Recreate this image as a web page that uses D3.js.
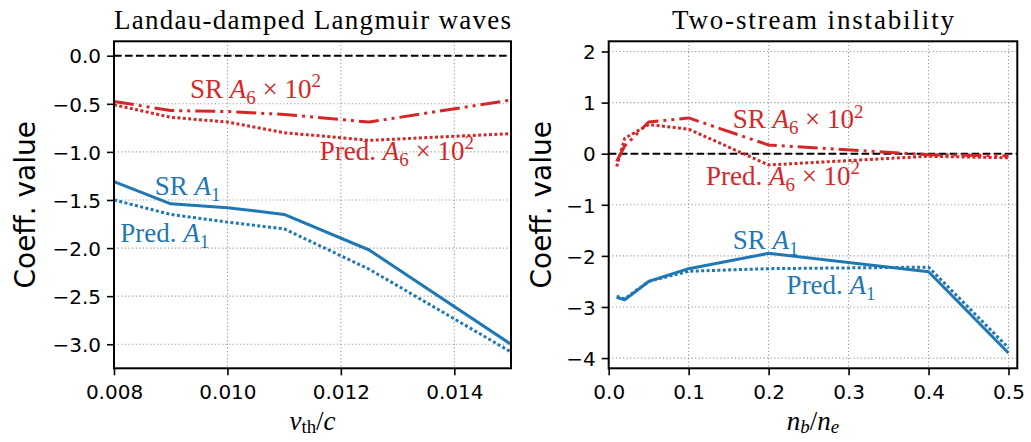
<!DOCTYPE html>
<html><head><meta charset="utf-8">
<script src="https://cdn.jsdelivr.net/npm/d3@7"></script>
<style>body{margin:0;background:#fff} svg{display:block}</style>
</head><body>
<svg id="c" width="1031" height="442"></svg>
<script>
// ---- Data: Landau-damped Langmuir waves ----
const leftX      = [0.008, 0.009, 0.010, 0.011, 0.0125, 0.015];
const leftSRA1   = [-1.31, -1.54, -1.58, -1.65, -2.02, -3.00];
const leftPredA1 = [-1.50, -1.65, -1.73, -1.80, -2.22, -3.08];
const leftSRA6   = [-0.475, -0.57, -0.58, -0.61, -0.69, -0.46];
const leftPredA6 = [-0.51, -0.64, -0.69, -0.80, -0.88, -0.81];
const leftXTicks = [0.008, 0.010, 0.012, 0.014];
const leftYTicks = [0.0, -0.5, -1.0, -1.5, -2.0, -2.5, -3.0];

// ---- Data: Two-stream instability ----
const rightX      = [0.01, 0.02, 0.05, 0.1, 0.2, 0.4, 0.5];
const rightSRA1   = [-2.81, -2.86, -2.50, -2.25, -1.95, -2.31, -3.90];
const rightPredA1 = [-2.79, -2.84, -2.50, -2.30, -2.25, -2.22, -3.80];
const rightSRA6   = [-0.15, 0.15, 0.62, 0.70, 0.17, -0.02, -0.04];
const rightPredA6 = [-0.25, 0.30, 0.57, 0.48, -0.22, -0.05, -0.08];
const rightXTicks = [0.0, 0.1, 0.2, 0.3, 0.4, 0.5];
const rightYTicks = [2, 1, 0, -1, -2, -3, -4];

const titles = ["Landau-damped Langmuir waves", "Two-stream instability"];
const yLabelText = "Coeff. value";

const BLUE = "#1f77b4", RED = "#d62728";
const SERIF = "'Liberation Serif', 'Times New Roman', serif";
const SANS = "'DejaVu Sans', sans-serif";
const svg = d3.select("#c");

function mathText(g, x, y, parts, fs, color, anchor, subK) {
  const t = g.append("text").attr("x", x).attr("y", y)
    .attr("font-family", SERIF).attr("font-size", fs).attr("fill", color)
    .attr("text-anchor", anchor || "start");
  let shift = 0;
  parts.forEach(p => {
    const s = t.append("tspan").text(p.t);
    let target = 0, size = fs;
    if (p.sub) { target = fs * (subK || 0.22); size = fs * 0.7; }
    if (p.sup) { target = -fs * 0.4; size = fs * 0.7; }
    s.attr("dy", target - shift).attr("font-size", size);
    shift = target;
    if (p.i) s.attr("font-style", "italic");
  });
  return t;
}
const A6lab = (pre) => [{t: pre}, {t: "A", i: true}, {t: "6", sub: true}, {t: " × 10"}, {t: "2", sup: true}];
const A1lab = (pre) => [{t: pre}, {t: "A", i: true}, {t: "1", sub: true}];

function panel(cfg) {
  const g = svg.append("g");
  const x = d3.scaleLinear().domain(cfg.xd).range(cfg.xr);
  const y = d3.scaleLinear().domain(cfg.yd).range([368.3, 41.3]);
  const [x0, x1] = cfg.xr, y0 = 368.3, y1 = 41.3;

  // grid
  g.append("g").selectAll("line").data(cfg.xt).join("line")
    .attr("x1", d => x(d)).attr("x2", d => x(d)).attr("y1", y1).attr("y2", y0)
    .attr("stroke", "#9a9a9a").attr("stroke-width", 1.1).attr("stroke-dasharray", "1.2,2.4");
  g.append("g").selectAll("line").data(cfg.yt).join("line")
    .attr("x1", x0).attr("x2", x1).attr("y1", d => y(d)).attr("y2", d => y(d))
    .attr("stroke", "#9a9a9a").attr("stroke-width", 1.1).attr("stroke-dasharray", "1.2,2.4");

  // zero line
  g.append("line").attr("x1", x0).attr("x2", x1).attr("y1", y(0)).attr("y2", y(0))
    .attr("stroke", "#000").attr("stroke-width", 2).attr("stroke-dasharray", "7.5,3.5");

  const line = d3.line().x(d => x(d[0])).y(d => y(d[1]));
  cfg.series.forEach(s => {
    g.append("path").datum(cfg.xs.map((v, i) => [v, s.v[i]]))
      .attr("d", line).attr("fill", "none").attr("stroke", s.c)
      .attr("stroke-width", 3).attr("stroke-dasharray", s.dash || null)
      .attr("stroke-linejoin", "round");
  });

  // axes
  const xa = g.append("g").attr("transform", `translate(0,${y0})`)
    .call(d3.axisBottom(x).tickValues(cfg.xt).tickFormat(d3.format(cfg.xf)).tickSize(7).tickPadding(6));
  const ya = g.append("g").attr("transform", `translate(${x0},0)`)
    .call(d3.axisLeft(y).tickValues(cfg.yt).tickFormat(d3.format(cfg.yf)).tickSize(7).tickPadding(6));
  [xa, ya].forEach(a => {
    a.select(".domain").remove();
    a.selectAll("line").attr("stroke", "#000").attr("stroke-width", 1.6);
    a.selectAll("text").attr("font-family", SANS).attr("font-size", 20).attr("fill", "#000");
  });
  xa.selectAll("text").attr("dy", "0.9em");
  ya.selectAll("text").attr("dy", "0.36em");

  // frame
  g.append("rect").attr("x", x0).attr("y", y1).attr("width", x1 - x0).attr("height", y0 - y1)
    .attr("fill", "none").attr("stroke", "#000").attr("stroke-width", 2);

  // labels on lines
  cfg.labels.forEach(l => mathText(g, x(l.x), y(l.y), l.parts, 27, l.c));

  // title
  g.append("text").attr("x", (x0 + x1) / 2).attr("y", 29).attr("text-anchor", "middle")
    .attr("font-family", SERIF).attr("font-size", 27).attr("fill", "#000")
    .attr("textLength", cfg.titleW).attr("lengthAdjust", "spacing").text(cfg.title);

  // y label
  g.append("text").attr("transform", `translate(${cfg.ylx},${(y0 + y1) / 2}) rotate(-90)`)
    .attr("text-anchor", "middle").attr("font-family", SANS).attr("font-size", 28)
    .attr("fill", "#000").text(yLabelText);

  // x label
  mathText(g, (x0 + x1) / 2, 430, cfg.xlab, 27, "#000", "middle", 0.12);
}

const DOT = "3,2.4";
const DASHDOTDOT = "20,5,3,5,3,5";

panel({
  xd: [0.008, 0.015], xr: [114, 511], yd: [-3.25, 0.15],
  xt: leftXTicks, yt: leftYTicks, xf: ".3f", yf: ".1f",
  xs: leftX,
  series: [
    {v: leftSRA1, c: BLUE},
    {v: leftPredA1, c: BLUE, dash: DOT},
    {v: leftSRA6, c: RED, dash: DASHDOTDOT},
    {v: leftPredA6, c: RED, dash: DOT}
  ],
  labels: [
    {x: 0.00934, y: -0.44, parts: A6lab("SR "), c: RED},
    {x: 0.01163, y: -1.084, parts: A6lab("Pred. "), c: RED},
    {x: 0.00872, y: -1.448, parts: A1lab("SR "), c: BLUE},
    {x: 0.00811, y: -1.936, parts: A1lab("Pred. "), c: BLUE}
  ],
  title: titles[0], titleW: 397, ylx: 35,
  xlab: [{t: "v", i: true}, {t: "th", sub: true}, {t: "/"}, {t: "c", i: true}]
});

panel({
  xd: [0, 0.511], xr: [608.7, 1017.3], yd: [-4.2, 2.2],
  xt: rightXTicks, yt: rightYTicks, xf: ".1f", yf: "d",
  xs: rightX,
  series: [
    {v: rightSRA1, c: BLUE},
    {v: rightPredA1, c: BLUE, dash: DOT},
    {v: rightSRA6, c: RED, dash: DASHDOTDOT},
    {v: rightPredA6, c: RED, dash: DOT}
  ],
  labels: [
    {x: 0.155, y: 0.497, parts: A6lab("SR "), c: RED},
    {x: 0.1216, y: -0.613, parts: A6lab("Pred. "), c: RED},
    {x: 0.155, y: -1.871, parts: A1lab("SR "), c: BLUE},
    {x: 0.2225, y: -2.746, parts: A1lab("Pred. "), c: BLUE}
  ],
  title: titles[1], titleW: 282, ylx: 551,
  xlab: [{t: "n", i: true}, {t: "b", sub: true, i: true}, {t: "/"}, {t: "n", i: true}, {t: "e", sub: true, i: true}]
});
</script>
</body></html>
